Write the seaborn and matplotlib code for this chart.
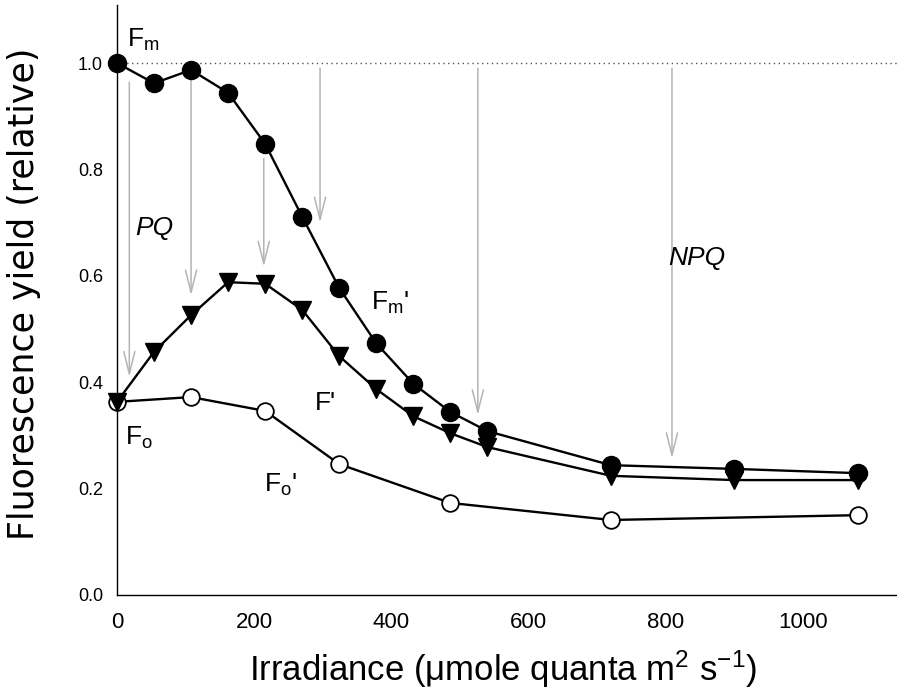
import matplotlib
matplotlib.use("Agg")
import matplotlib.pyplot as plt
from matplotlib import font_manager
import seaborn as sns
import pandas as pd

# ---- data ----
fm_x = [0, 54, 108, 162, 216, 270, 324, 378, 432, 486, 540, 720, 900, 1080]
fm_y = [1.0, 0.962, 0.987, 0.944, 0.848, 0.711, 0.577, 0.473, 0.397, 0.344, 0.308, 0.244, 0.237, 0.229]
fp_x = [0, 54, 108, 162, 216, 270, 324, 378, 432, 486, 540, 720, 900, 1080]
fp_y = [0.363, 0.457, 0.526, 0.588, 0.585, 0.536, 0.449, 0.387, 0.336, 0.304, 0.278, 0.224, 0.216, 0.216]
fo_x = [0, 108, 216, 324, 486, 720, 1080]
fo_y = [0.363, 0.372, 0.346, 0.246, 0.173, 0.141, 0.150]

arrow_x = [18, 108, 214, 296, 526, 809]
arrow_y0 = [0.964, 0.974, 0.82, 0.99, 0.99, 0.99]
arrow_y1 = [0.41, 0.563, 0.617, 0.70, 0.338, 0.257]

x_ticks = [0, 200, 400, 600, 800, 1000]
y_ticks = [0.0, 0.2, 0.4, 0.6, 0.8, 1.0]

sns.set_style("white")
names = {f.name for f in font_manager.fontManager.ttflist}
base = "Liberation Sans" if "Liberation Sans" in names else "DejaVu Sans"
plt.rcParams["font.family"] = [base, "DejaVu Sans"]
plt.rcParams["mathtext.fontset"] = "custom"
plt.rcParams["mathtext.rm"] = base
plt.rcParams["mathtext.it"] = base + ":italic"
for k in ["text.color", "axes.labelcolor", "xtick.color", "ytick.color"]:
    plt.rcParams[k] = "black"

df = pd.concat([
    pd.DataFrame({"x": fm_x, "y": fm_y, "s": "Fm"}),
    pd.DataFrame({"x": fp_x, "y": fp_y, "s": "F'"}),
    pd.DataFrame({"x": fo_x, "y": fo_y, "s": "Fo"}),
])

fig = plt.figure(figsize=(8.97, 6.98), dpi=100)
ax = fig.add_axes([0.1304, 0.1476, 0.8696, 0.8452])

# arrows (behind)
for xa, y0, y1 in zip(arrow_x, arrow_y0, arrow_y1):
    ax.annotate("", xy=(xa, y1), xytext=(xa, y0),
                arrowprops=dict(arrowstyle="->,head_length=0.8,head_width=0.2",
                                color="#b4b4b4", lw=1.1, mutation_scale=20,
                                shrinkA=0, shrinkB=0), zorder=1)

ax.axhline(1.0, color="#555555", lw=1.0, ls=(0, (1, 2.5)), zorder=1)

styles = {"Fm": dict(marker="o", ms=13, mfc="black", mec="black"),
          "F'": dict(marker="v", ms=13, mfc="black", mec="black"),
          "Fo": dict(marker="o", ms=12, mfc="white", mec="black", mew=1.3)}
order = ["Fo", "F'", "Fm"]
for i, key in enumerate(order):
    sub = df[df["s"] == key]
    st = styles[key]
    sns.lineplot(data=sub, x="x", y="y", ax=ax, color="black", lw=1.7,
                 marker=st["marker"], markersize=st["ms"],
                 markerfacecolor=st["mfc"], markeredgecolor=st["mec"],
                 markeredgewidth=st.get("mew", 1.0), clip_on=False,
                 zorder=3 + i, legend=False, sort=False)

ax.set_xlim(0, 1137)
ax.set_ylim(0, 1.109)
ax.set_xticks(x_ticks)
ax.set_yticks(y_ticks)
ax.set_yticklabels([f"{v:.1f}" for v in y_ticks])
ax.tick_params(axis="both", direction="out", length=6, width=1, color="black", pad=4)
ax.tick_params(axis="x", labelsize=16, pad=6)
ax.tick_params(axis="y", labelsize=13)
ax.spines["top"].set_visible(False)
ax.spines["right"].set_visible(False)
for s in ["left", "bottom"]:
    ax.spines[s].set_color("black")
    ax.spines[s].set_linewidth(1.0)

ax.set_xlabel("Irradiance (\u03bcmole quanta m$^\\mathregular{2}$ s$^\\mathregular{-1}$)",
              fontsize=25)
ax.xaxis.set_label_coords(0.495, -0.09)
ax.set_ylabel("Fluorescence yield (relative)", fontsize=25, family="DejaVu Sans")
ax.yaxis.set_label_coords(-0.097, 0.51)

fs = 19
ax.text(14, 1.03, "F$_\\mathregular{m}$", fontsize=fs, va="baseline")
ax.text(26, 0.677, "PQ", fontsize=fs, style="italic", va="baseline")
ax.text(370, 0.536, "F$_\\mathregular{m}$'", fontsize=fs, va="baseline")
ax.text(289, 0.348, "F'", fontsize=fs, va="baseline")
ax.text(12, 0.282, "F$_\\mathregular{o}$", fontsize=fs, va="baseline")
ax.text(215, 0.194, "F$_\\mathregular{o}$'", fontsize=fs, va="baseline")
ax.text(803, 0.620, "NPQ", fontsize=fs, style="italic", va="baseline")

ax.set_facecolor("white")
fig.savefig("out.png", dpi=100, facecolor="white")
